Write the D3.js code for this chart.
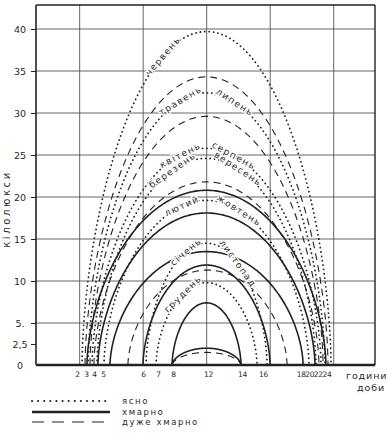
<!DOCTYPE html>
<html><head><meta charset="utf-8">
<script src="https://cdn.jsdelivr.net/npm/d3@7/dist/d3.min.js"></script>
<style>
body{margin:0;background:#fff}
svg{display:block}
text{font-family:"DejaVu Sans",sans-serif;fill:#2a2a2a}
</style>
</head><body>
<svg id="c" width="388" height="448"></svg>
<script>
// ---------- data ----------
const yTicks = [0, 2.5, 5, 10, 15, 20, 25, 30, 35, 40];
const yTickLabels = ["0", "2,5", "5.", "10", "15", "20", "25", "30", "35", "40"];
const xTickLabels = ["2","3","4","5","6","7","8","12","14","16","18","20","22","24"];
const xTickAt = [3.83, 4.40, 4.90, 5.47, 7.99, 8.93, 9.88, 12.08, 14.22, 15.55, 17.92, 18.46, 19.00, 19.54];
const gridHours = [4, 8, 12, 16, 20];
const gridValues = [5, 10, 15, 20, 25, 30, 35, 40];
const conditions = ["ясно", "хмарно", "дуже хмарно"];

// clear sky (dotted)
const clearMonths = [["червень"], ["травень","липень"], ["квітень","серпень"], ["березень","вересень"], ["лютий","жовтень"], ["січень","листопад"], ["грудень"]];
const clearPeak = [39.7, 32.4, 25.8, 24.6, 19.6, 14.5, 9.8];
const clearRise = [4.15, 4.53, 4.78, 5.09, 5.53, 8.18, 8.81];
const clearSet  = [19.83, 19.45, 19.20, 18.88, 18.44, 15.80, 15.17];
// cloudy (solid)
const cloudyPeak = [20.8, 18.1, 13.5, 11.9, 7.4, 2.0];
const cloudyRise = [4.46, 5.15, 5.91, 7.99, 9.82, 9.82];
const cloudySet  = [19.51, 18.82, 18.07, 15.99, 14.16, 14.16];
// very cloudy (dashed)
const overcastPeak = [34.3, 29.6, 21.8, 11.3, 1.5];
const overcastRise = [4.34, 4.65, 4.90, 7.04, 9.82];
const overcastSet  = [19.64, 19.33, 19.07, 17.06, 14.16];

// ---------- layout ----------
const plot = {left: 36, right: 375, top: 5, bottom: 365};
const SHAPE = 0.58;
const labelPlacement = {"червень": -0.35, "травень": -0.22, "липень": 0.24, "квітень": -0.23, "серпень": 0.24,
  "березень": -0.31, "вересень": 0.29, "лютий": -0.24, "жовтень": 0.32, "січень": -0.34, "листопад": 0.52, "грудень": -0.47};
const ink = "#222";

const svg = d3.select("#c");
const x = d3.scaleLinear().domain([1.25, 22.6]).range([plot.left, plot.right]);
const y = d3.scaleLinear().domain([0, 40]).range([plot.bottom, 29]);

// grid
svg.append("g").selectAll("line").data(gridValues).join("line")
  .attr("x1", plot.left).attr("x2", plot.right)
  .attr("y1", d => y(d)).attr("y2", d => y(d))
  .attr("stroke", "#555").attr("stroke-width", 0.9);
svg.append("g").selectAll("line").data(gridHours).join("line")
  .attr("x1", d => x(d)).attr("x2", d => x(d))
  .attr("y1", plot.top).attr("y2", plot.bottom)
  .attr("stroke", "#555").attr("stroke-width", 0.9);

// frame
const frame = svg.append("g").attr("stroke", ink).attr("fill", "none");
frame.append("line").attr("x1", plot.left).attr("x2", plot.right).attr("y1", plot.top).attr("y2", plot.top).attr("stroke-width", 1.4);
frame.append("line").attr("x1", plot.right).attr("x2", plot.right).attr("y1", plot.top).attr("y2", plot.bottom).attr("stroke-width", 1.4);
frame.append("line").attr("x1", plot.left).attr("x2", plot.left).attr("y1", plot.top).attr("y2", plot.bottom).attr("stroke-width", 1.6);

// curves
const series = [
  {cond: 0, peak: clearPeak, rise: clearRise, set: clearSet},
  {cond: 1, peak: cloudyPeak, rise: cloudyRise, set: cloudySet},
  {cond: 2, peak: overcastPeak, rise: overcastRise, set: overcastSet}
];
const curves = series.flatMap(s => s.peak.map((p, i) => ({cond: s.cond, idx: i, peak: p, rise: s.rise[i], set: s.set[i]})));

function pointAt(c, u) {
  const mid = (c.rise + c.set) / 2, half = (c.set - c.rise) / 2;
  const t = Math.acos(Math.max(-1, Math.min(1, -u)));
  return [mid + half * u, c.peak * Math.pow(Math.max(0, Math.sin(t)), 2 * SHAPE)];
}
function curvePoints(c) {
  return d3.range(0, 241).map(k => pointAt(c, -Math.cos(Math.PI * k / 240)));
}
const line = d3.line().x(d => x(d[0])).y(d => y(d[1]));
const styles = [
  {w: 1.8, dash: "0.1 4.3", cap: "round"},
  {w: 1.6, dash: null, cap: "butt"},
  {w: 1.1, dash: "7 5", cap: "butt"}
];
svg.append("g").attr("fill", "none").selectAll("path").data(curves).join("path")
  .attr("d", c => line(curvePoints(c)))
  .attr("stroke", ink)
  .attr("stroke-width", c => styles[c.cond].w)
  .attr("stroke-dasharray", c => styles[c.cond].dash)
  .attr("stroke-linecap", c => styles[c.cond].cap);

// bottom axis line (thick)
svg.append("line").attr("x1", plot.left).attr("x2", plot.right).attr("y1", plot.bottom).attr("y2", plot.bottom)
  .attr("stroke", ink).attr("stroke-width", 2.6);

// month labels along the clear-sky curves
const clearCurves = curves.filter(c => c.cond === 0);
const lbl = svg.append("g");
clearMonths.forEach((names, i) => {
  const c = clearCurves[i];
  names.forEach(name => {
    const u = labelPlacement[name];
    const p = pointAt(c, u), p1 = pointAt(c, u - 0.02), p2 = pointAt(c, u + 0.02);
    const ang = Math.atan2(y(p2[1]) - y(p1[1]), x(p2[0]) - x(p1[0])) * 180 / Math.PI;
    lbl.append("text")
      .attr("transform", `translate(${x(p[0])},${y(p[1])}) rotate(${ang})`)
      .attr("text-anchor", "middle").attr("dy", "0.35em")
      .attr("font-size", 9).attr("letter-spacing", 1.4)
      .attr("stroke", "#fff").attr("stroke-width", 2.5).attr("paint-order", "stroke")
      .text(name);
  });
});

// y axis
const yAxis = svg.append("g").attr("transform", `translate(${plot.left},0)`)
  .call(d3.axisLeft(y).tickValues(yTicks).tickFormat((d, i) => yTickLabels[i]).tickSize(5));
yAxis.select(".domain").remove();
yAxis.selectAll(".tick line").attr("stroke", ink).attr("stroke-width", 1);
yAxis.selectAll(".tick text").attr("x", -16).attr("text-anchor", "middle")
  .attr("font-size", 9.5).attr("font-family", "DejaVu Sans").attr("fill", "#333");
yAxis.selectAll(".tick").filter(d => d === 0).select("line").remove();

svg.append("text").attr("transform", "translate(10,209) rotate(-90)")
  .attr("text-anchor", "middle").attr("font-size", 10).attr("letter-spacing", 2.6)
  .text("кілолюкси");

// x axis
const xAxis = svg.append("g").attr("transform", `translate(0,${plot.bottom})`)
  .call(d3.axisBottom(x).tickValues(xTickAt).tickFormat((d, i) => xTickLabels[i]).tickSize(0).tickPadding(7));
xAxis.select(".domain").remove();
xAxis.selectAll(".tick text").attr("font-size", 7.5).attr("letter-spacing", -0.3)
  .attr("font-family", "DejaVu Sans Condensed, DejaVu Sans").attr("fill", "#333");

svg.append("text").attr("x", 346).attr("y", 379).attr("font-size", 9.5).attr("letter-spacing", 0.9).text("години");
svg.append("text").attr("x", 357).attr("y", 391).attr("font-size", 9.5).attr("letter-spacing", 0.9).text("доби");

// legend
const legendY = [401, 412, 422];
const legendStyles = [
  {w: 2, dash: "0.1 6", cap: "round"},
  {w: 2.4, dash: null, cap: "butt"},
  {w: 1.2, dash: "12 8", cap: "butt"}
];
const leg = svg.append("g");
conditions.forEach((name, i) => {
  leg.append("line").attr("x1", 32).attr("x2", 110).attr("y1", legendY[i]).attr("y2", legendY[i])
    .attr("stroke", ink).attr("stroke-width", legendStyles[i].w)
    .attr("stroke-dasharray", legendStyles[i].dash).attr("stroke-linecap", legendStyles[i].cap);
  leg.append("text").attr("x", 122).attr("y", legendY[i] + 3).attr("font-size", 8.5)
    .attr("letter-spacing", 1.6).text(name);
});
</script>
</body></html>
